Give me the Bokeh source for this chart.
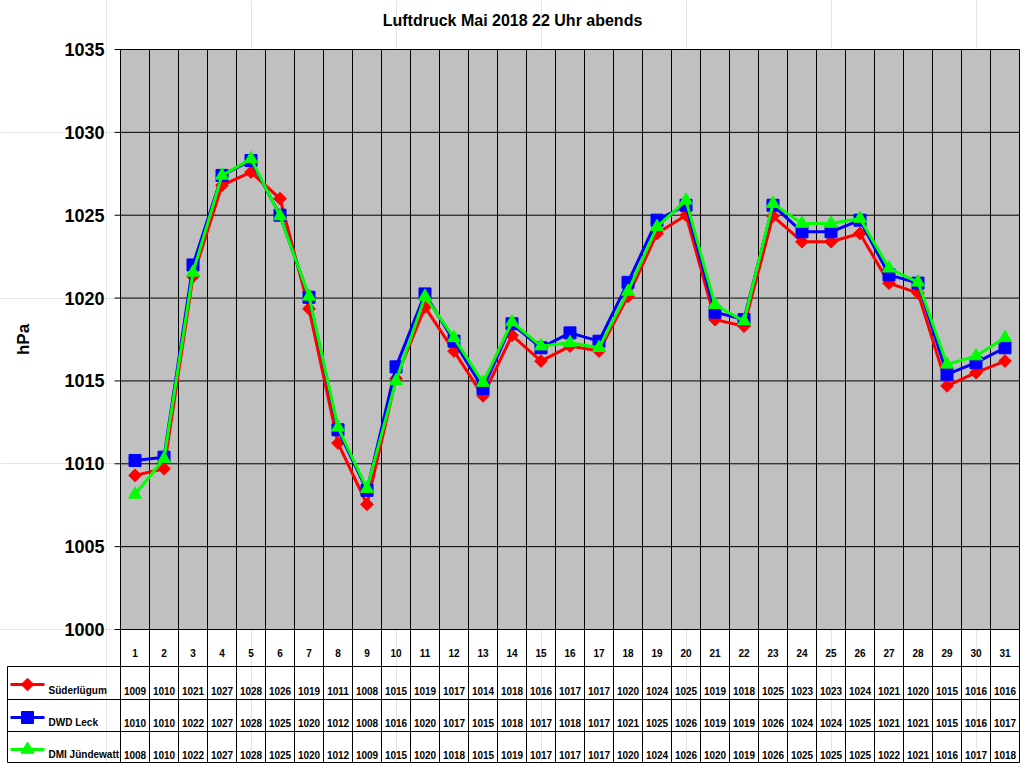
import math
from bokeh.plotting import figure
from bokeh.models import Range1d
from bokeh.core.properties import value
from bokeh.embed import file_html
from bokeh.resources import INLINE

# ---------------- data ----------------
title_text = "Luftdruck Mai 2018 22 Uhr abends"
y_label = "hPa"
days = list(range(1, 32))
day_labels = [str(d) for d in days]

series_names = ["Süderlügum", "DWD Leck", "DMI Jündewatt"]

suederluegum = [1009.3, 1009.7, 1021.3, 1026.8, 1027.6, 1026.0, 1019.35, 1011.25, 1007.55, 1015.15,
                1019.45, 1016.8, 1014.1, 1017.75, 1016.2, 1017.1, 1016.8, 1020.1, 1023.9, 1025.0,
                1018.7, 1018.3, 1024.95, 1023.4, 1023.4, 1023.9, 1020.9, 1020.3, 1014.7, 1015.5, 1016.2]
dwd_leck = [1010.2, 1010.4, 1022.0, 1027.4, 1028.3, 1025.0, 1020.05, 1012.05, 1008.4, 1015.85,
            1020.25, 1017.4, 1014.55, 1018.45, 1017.0, 1017.9, 1017.4, 1020.95, 1024.7, 1025.6,
            1019.15, 1018.7, 1025.6, 1024.0, 1024.0, 1024.7, 1021.4, 1020.9, 1015.4, 1016.1, 1017.0]
dmi_juendewatt = [1008.15, 1010.3, 1021.55, 1027.4, 1028.4, 1024.95, 1020.1, 1012.2, 1008.5, 1015.0,
                  1020.1, 1017.6, 1014.9, 1018.55, 1017.1, 1017.3, 1017.0, 1020.4, 1024.3, 1025.9,
                  1019.6, 1018.6, 1025.7, 1024.5, 1024.5, 1024.8, 1021.8, 1020.95, 1016.0, 1016.5, 1017.6]

# values printed in the data table
suederluegum_tab = [1009, 1010, 1021, 1027, 1028, 1026, 1019, 1011, 1008, 1015, 1019, 1017, 1014, 1018, 1016, 1017,
                    1017, 1020, 1024, 1025, 1019, 1018, 1025, 1023, 1023, 1024, 1021, 1020, 1015, 1016, 1016]
dwd_leck_tab = [1010, 1010, 1022, 1027, 1028, 1025, 1020, 1012, 1008, 1016, 1020, 1017, 1015, 1018, 1017, 1018,
                1017, 1021, 1025, 1026, 1019, 1019, 1026, 1024, 1024, 1025, 1021, 1021, 1015, 1016, 1017]
dmi_juendewatt_tab = [1008, 1010, 1022, 1027, 1028, 1025, 1020, 1012, 1009, 1015, 1020, 1018, 1015, 1019, 1017, 1017,
                      1017, 1020, 1024, 1026, 1020, 1019, 1026, 1025, 1025, 1025, 1022, 1021, 1016, 1017, 1018]

y_ticks = [1000, 1005, 1010, 1015, 1020, 1025, 1030, 1035]
y_min, y_max = 1000, 1035

# ---------------- layout constants (pixels) ----------------
FONT = "Liberation Sans"
W, H = 1020, 764
PX_L, PX_R = 120, 1019          # plot area left / right
PY_T, PY_B = 49, 629            # plot area top / bottom
xu = 31.0 / (PX_R - PX_L)       # data units per px (x)
yu = (y_max - y_min) / (PY_B - PY_T)
x_start = 0.5 - PX_L * xu
x_end = x_start + W * xu
y_top = y_max + PY_T * yu
y_bottom = y_max - (H - PY_T) * yu


def px2x(px):
    return x_start + px * xu


def py2y(py):
    return y_top - py * yu


styles = [
    dict(color="#FF0000", marker="square", size=9, angle=math.pi / 4),
    dict(color="#0000FF", marker="square", size=12, angle=0.0),
    dict(color="#00FF00", marker="triangle", size=13, angle=0.0),
]
series = [suederluegum, dwd_leck, dmi_juendewatt]
series_tab = [suederluegum_tab, dwd_leck_tab, dmi_juendewatt_tab]

p = figure(width=W, height=H, x_range=Range1d(x_start, x_end), y_range=Range1d(y_bottom, y_top),
           output_backend="svg", toolbar_location=None, x_axis_location=None, y_axis_location=None,
           min_border=0)
p.outline_line_color = None
p.background_fill_color = "white"
p.border_fill_color = "white"

txt = dict(text_font=value(FONT), text_font_style="bold", text_color="black")

# title
p.text(x=[px2x(512)], y=[py2y(20)], text=[title_text], text_align="center", text_baseline="middle",
       text_font_size="16px", **txt)

# plot area background
p.quad(left=[0.5], right=[31.5], bottom=[y_min], top=[y_max], fill_color="#C0C0C0", line_color=None)

# horizontal grid (value axis)
p.segment(x0=[0.5] * len(y_ticks), y0=y_ticks, x1=[31.5] * len(y_ticks), y1=y_ticks,
          line_color="black", line_width=1)
# y tick marks and labels
p.segment(x0=[px2x(114)] * len(y_ticks), y0=y_ticks, x1=[0.5] * len(y_ticks), y1=y_ticks,
          line_color="black", line_width=1)
p.text(x=[px2x(104)] * len(y_ticks), y=y_ticks, text=[str(v) for v in y_ticks], text_align="right",
       text_baseline="middle", text_font_size="18px", **txt)
p.text(x=[px2x(23)], y=[py2y(339)], text=[y_label], angle=math.pi / 2, text_align="center",
       text_baseline="middle", text_font_size="17px", **txt)

# table geometry (page px rows)
row_top = [666, 699, 731]
row_bottom = 762
day_row_py = 652
row_text_py = [690, 722, 754]
row_marker_py = [684, 717, 749]

# vertical category lines (through plot and table)
bounds = [d - 0.5 for d in days] + [31.5]
p.segment(x0=bounds, y0=[py2y(row_bottom)] * len(bounds), x1=bounds, y1=[y_max] * len(bounds),
          line_color="black", line_width=1)
# horizontal table lines
h_lines = [py2y(v) for v in row_top + [row_bottom]]
p.segment(x0=[px2x(7)] * len(h_lines), y0=h_lines, x1=[31.5] * len(h_lines), y1=h_lines,
          line_color="black", line_width=1)
p.segment(x0=[px2x(7)], y0=[py2y(row_top[0])], x1=[px2x(7)], y1=[py2y(row_bottom)],
          line_color="black", line_width=1)

# day numbers
p.text(x=days, y=[py2y(day_row_py)] * 31, text=day_labels, text_align="center", text_baseline="middle",
       text_font_size="10px", **txt)

# series lines
for vals, st in zip(series, styles):
    p.line(days, vals, line_color=st["color"], line_width=3)
    p.scatter(days, vals, marker=st["marker"], size=st["size"], angle=st["angle"],
              fill_color=st["color"], line_color=st["color"])

# table rows with legend keys
for name, tab, st, ty, my in zip(series_names, series_tab, styles, row_text_py, row_marker_py):
    p.text(x=days, y=[py2y(ty)] * 31, text=[str(v) for v in tab], text_align="center",
           text_baseline="middle", text_font_size="10px", **txt)
    p.segment(x0=[px2x(10)], y0=[py2y(my)], x1=[px2x(44)], y1=[py2y(my)], line_color=st["color"], line_width=3)
    p.scatter(x=[px2x(27)], y=[py2y(my)], marker=st["marker"], size=st["size"], angle=st["angle"],
              fill_color=st["color"], line_color=st["color"])
    p.text(x=[px2x(48)], y=[py2y(ty)], text=[name], text_align="left", text_baseline="middle",
           text_font_size="10px", **txt)

open("out.html", "w").write(file_html(p, INLINE))
